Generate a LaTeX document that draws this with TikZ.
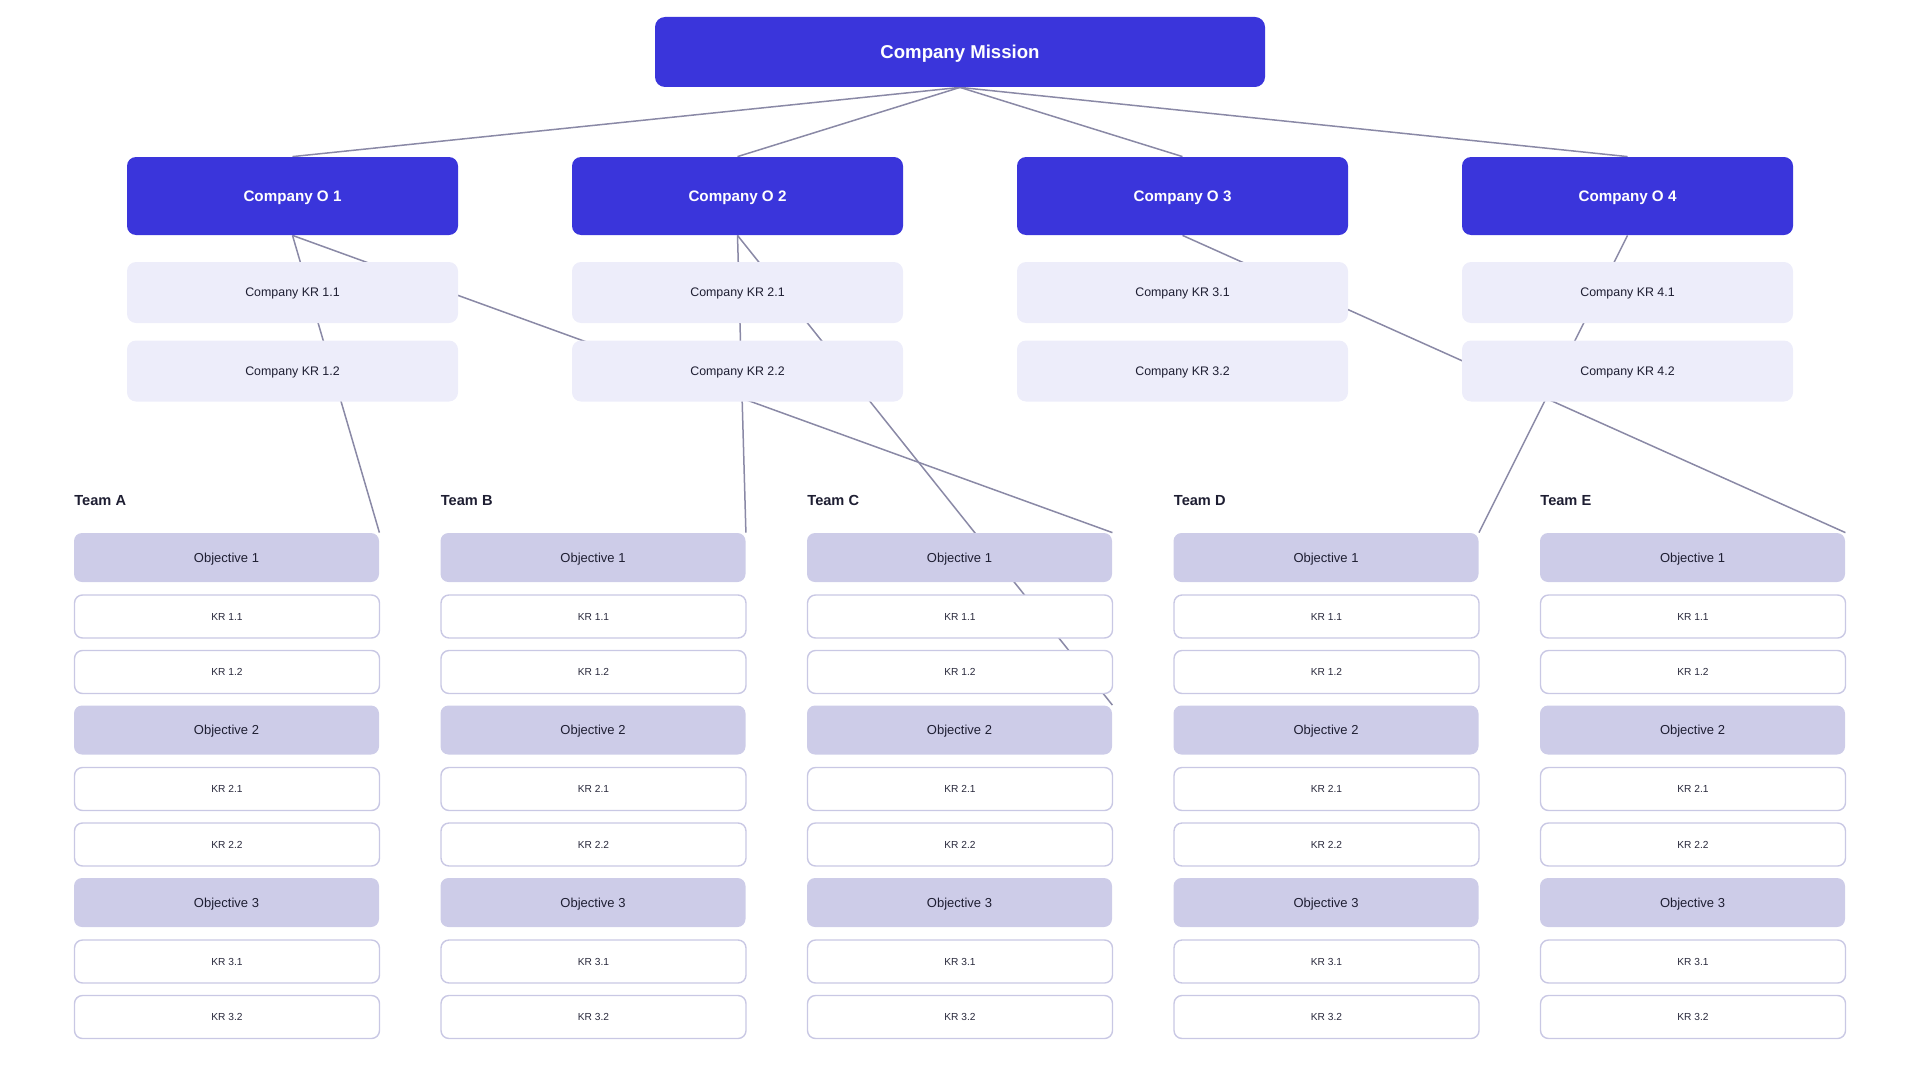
\documentclass[tikz,border=0pt]{standalone}
\usepackage{fontspec}
\setmainfont{Liberation Sans}
\usetikzlibrary{backgrounds}
\definecolor{mblue}{HTML}{3A35DB}
\definecolor{ckr}{HTML}{EDEDFA}
\definecolor{tobj}{HTML}{CDCCE8}
\definecolor{tkrb}{HTML}{C9C8E4}
\definecolor{lnk}{HTML}{8A89A6}
\definecolor{txt}{HTML}{1E1E32}
\begin{document}
\begin{tikzpicture}[x=0.5pt,y=-0.5pt,
  every node/.style={text depth=0pt},
  missionbox/.style={fill=mblue, rounded corners=5pt, minimum width=305pt, minimum height=35pt, text=white, font=\fontsize{9.3}{11}\selectfont\bfseries, inner sep=0pt, text depth=-0.8pt},
  cobj/.style={fill=mblue, rounded corners=4.5pt, minimum width=165.5pt, minimum height=39pt, text=white, font=\fontsize{7.6}{9}\selectfont\bfseries, inner sep=0pt, text depth=-0.6pt},
  ckrbox/.style={fill=ckr, rounded corners=4.5pt, minimum width=165.5pt, minimum height=30.5pt, text=txt, font=\fontsize{6.2}{8}\selectfont, inner sep=0pt, text depth=-0.5pt},
  tobjbox/.style={fill=tobj, rounded corners=4pt, minimum width=152.5pt, minimum height=24.5pt, text=txt, font=\fontsize{6.5}{8}\selectfont, inner sep=0pt, text depth=-0.4pt},
  tkrbox/.style={fill=white, draw=tkrb, line width=0.7pt, rounded corners=4pt, minimum width=152.5pt, minimum height=21.5pt, text=txt!95, font=\fontsize{5.1}{6}\selectfont, inner sep=0pt},
  teamlabel/.style={anchor=west, inner sep=0pt, text=txt, font=\fontsize{7.3}{9}\selectfont\bfseries},
  link/.style={draw=lnk, line width=0.75pt}
]
\useasboundingbox (0,0) rectangle (1920,1065);

\node[missionbox] (mission) at (960,52) {Company Mission};

\foreach \i in {1,...,4}{
  \node[cobj] (co\i) at ({292.5+445*(\i-1)},196) {Company O \i};
  \node[ckrbox] (ckr\i1) at ({292.5+445*(\i-1)},292.5) {Company KR \i.1};
  \node[ckrbox] (ckr\i2) at ({292.5+445*(\i-1)},371) {Company KR \i.2};
}

\foreach \t [count=\k from 0] in {A,B,C,D,E}{
  \node[teamlabel] (tl\t) at ({74+366.5*\k},500) {Team \t};
  \foreach \g in {1,2,3}{
    \node[tobjbox] (\t-o\g) at ({74+366.5*\k+152.5},{533+172.5*(\g-1)+24.5}) {Objective \g};
    \node[tkrbox] (\t-kr\g1) at ({74+366.5*\k+153},{533+172.5*(\g-1)+83.5}) {KR \g.1};
    \node[tkrbox] (\t-kr\g2) at ({74+366.5*\k+153},{533+172.5*(\g-1)+139}) {KR \g.2};
  }
}

\begin{scope}[on background layer]
  \foreach \i in {1,...,4}{\draw[link] (mission.south) -- (co\i.north);}
  \draw[link] (co1.south) -- (A-o1.north east);
  \draw[link] (co1.south) -- (C-o1.north east);
  \draw[link] (co2.south) -- (B-o1.north east);
  \draw[link] (co2.south) -- (C-o2.north east);
  \draw[link] (co3.south) -- (E-o1.north east);
  \draw[link] (co4.south) -- (D-o1.north east);
\end{scope}
\end{tikzpicture}
\end{document}
